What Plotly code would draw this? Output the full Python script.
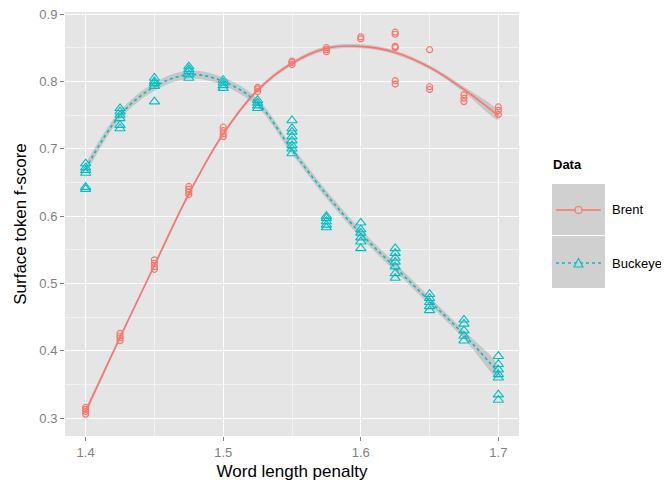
import plotly.graph_objects as go

# ---------------- data ----------------
penalties = [1.4, 1.425, 1.45, 1.475, 1.5, 1.525, 1.55, 1.575, 1.6, 1.625, 1.65, 1.675, 1.7]

brent_runs = [
    [0.306, 0.310, 0.313, 0.316],
    [0.415, 0.419, 0.422, 0.426],
    [0.521, 0.525, 0.530, 0.535],
    [0.632, 0.636, 0.640, 0.644],
    [0.718, 0.722, 0.727, 0.732],
    [0.785, 0.789, 0.791],
    [0.825, 0.828, 0.830],
    [0.844, 0.847, 0.850],
    [0.863, 0.866],
    [0.873, 0.870, 0.852, 0.850, 0.801, 0.796],
    [0.847, 0.792, 0.788],
    [0.780, 0.775, 0.770],
    [0.762, 0.757, 0.751],
]

buckeye_runs = [
    [0.640, 0.643, 0.664, 0.668, 0.672, 0.678],
    [0.730, 0.735, 0.745, 0.750, 0.755, 0.760],
    [0.770, 0.793, 0.797, 0.800, 0.805],
    [0.805, 0.810, 0.815, 0.818, 0.822],
    [0.790, 0.794, 0.798, 0.802],
    [0.760, 0.764, 0.768, 0.772],
    [0.693, 0.700, 0.705, 0.712, 0.718, 0.725, 0.730, 0.742],
    [0.583, 0.587, 0.592, 0.597, 0.600],
    [0.552, 0.562, 0.568, 0.575, 0.580, 0.590],
    [0.508, 0.515, 0.525, 0.532, 0.538, 0.545, 0.552],
    [0.460, 0.466, 0.472, 0.478, 0.484],
    [0.415, 0.422, 0.430, 0.440, 0.446],
    [0.327, 0.335, 0.360, 0.365, 0.372, 0.380, 0.392],
]

# smoothed fit and half-width of its confidence band
brent_fit = [0.310, 0.420, 0.527, 0.633, 0.722, 0.787, 0.827, 0.849, 0.852, 0.843, 0.821, 0.788, 0.749]
brent_se = [0.005, 0.003, 0.003, 0.003, 0.003, 0.003, 0.003, 0.003, 0.003, 0.003, 0.003, 0.004, 0.006]
buckeye_fit = [0.670, 0.750, 0.792, 0.810, 0.800, 0.768, 0.698, 0.632, 0.574, 0.524, 0.474, 0.424, 0.368]
buckeye_se = [0.008, 0.006, 0.006, 0.006, 0.006, 0.006, 0.006, 0.006, 0.006, 0.006, 0.006, 0.006, 0.009]

x_ticks = [1.4, 1.5, 1.6, 1.7]
y_ticks = [0.3, 0.4, 0.5, 0.6, 0.7, 0.8, 0.9]

RED = "#F8766D"
CYAN = "#00BFC4"
BAND = "rgba(153,153,153,0.4)"
KEYBG = "#D0D0D0"


def flatten(runs):
    xs, ys = [], []
    for p, vals in zip(penalties, runs):
        for v in vals:
            xs.append(p)
            ys.append(v)
    return xs, ys


fig = go.Figure()

for fit, se in [(brent_fit, brent_se), (buckeye_fit, buckeye_se)]:
    upper = [f + s for f, s in zip(fit, se)]
    lower = [f - s for f, s in zip(fit, se)]
    fig.add_trace(go.Scatter(x=penalties + penalties[::-1], y=upper + lower[::-1],
                             fill="toself", fillcolor=BAND, line=dict(width=0, shape="spline"),
                             mode="lines", hoverinfo="skip", showlegend=False))

bx, by = flatten(brent_runs)
kx, ky = flatten(buckeye_runs)

fig.add_trace(go.Scatter(x=bx, y=by, mode="markers", name="Brent", showlegend=False,
                         marker=dict(symbol="circle-open", size=6, color=RED, line=dict(width=1.2, color=RED))))
fig.add_trace(go.Scatter(x=kx, y=ky, mode="markers", name="Buckeye", showlegend=False,
                         marker=dict(symbol="triangle-up-open", size=9, color=CYAN, line=dict(width=1.1, color=CYAN))))

fig.add_trace(go.Scatter(x=penalties, y=brent_fit, mode="lines", showlegend=False,
                         line=dict(color=RED, width=1.6, shape="spline")))
fig.add_trace(go.Scatter(x=penalties, y=buckeye_fit, mode="lines", showlegend=False,
                         line=dict(color=CYAN, width=1.6, shape="spline", dash="3px,3px")))

# ---------------- layout ----------------
OFF = 8                     # browser default page margin
W, H = 669 - OFF, 487 - OFF
# plot area in page pixels
L_pg, R_pg, T_pg, B_pg = 65, 519, 12, 436
L, R, T, B = L_pg - OFF, R_pg - OFF, T_pg - OFF, B_pg - OFF


def px(x):
    return (x - L_pg) / (R_pg - L_pg)


def py(y):
    return (B_pg - y) / (B_pg - T_pg)


shapes = []
shapes.append(dict(type="rect", xref="paper", yref="paper", x0=px(552), x1=px(605), y0=py(184), y1=py(235),
                   fillcolor=KEYBG, line=dict(width=0), layer="above"))
shapes.append(dict(type="rect", xref="paper", yref="paper", x0=px(552), x1=px(605), y0=py(236), y1=py(288),
                   fillcolor=KEYBG, line=dict(width=0), layer="above"))
shapes.append(dict(type="line", xref="paper", yref="paper", x0=px(556), x1=px(601), y0=py(210), y1=py(210),
                   line=dict(color=RED, width=1.5), layer="above"))
shapes.append(dict(type="line", xref="paper", yref="paper", x0=px(556), x1=px(601), y0=py(263), y1=py(263),
                   line=dict(color=CYAN, width=1.5, dash="3px,3px"), layer="above"))
shapes.append(dict(type="circle", xref="paper", yref="paper", x0=px(575), x1=px(582), y0=py(206.5), y1=py(213.5),
                   fillcolor=KEYBG, line=dict(color=RED, width=1.1), layer="above"))
tx0, tx1, tx2 = px(574), px(578.5), px(583)
ty0, ty1 = py(267), py(258.5)
shapes.append(dict(type="path", xref="paper", yref="paper",
                   path=f"M {tx0},{ty0} L {tx2},{ty0} L {tx1},{ty1} Z",
                   fillcolor=KEYBG, line=dict(color=CYAN, width=1.1), layer="above"))

annotations = [
    dict(text="<b>Data</b>", xref="paper", yref="paper", x=px(551), y=py(165), xanchor="left", yanchor="middle",
         showarrow=False, font=dict(size=13, color="black")),
    dict(text="Brent", xref="paper", yref="paper", x=px(610), y=py(210), xanchor="left", yanchor="middle",
         showarrow=False, font=dict(size=13, color="black")),
    dict(text="Buckeye", xref="paper", yref="paper", x=px(610), y=py(263), xanchor="left", yanchor="middle",
         showarrow=False, font=dict(size=13, color="black")),
]

axis_common = dict(
    showgrid=True, gridcolor="white", gridwidth=1.4, zeroline=False, showline=False,
    ticks="outside", ticklen=4, tickwidth=1, tickcolor="#7F7F7F",
    tickfont=dict(size=13, color="#7F7F7F"), automargin=False, ticklabeloverflow="allow",
)

fig.update_layout(
    width=W, height=H,
    margin=dict(l=L, r=W - R, t=T, b=H - B, autoexpand=False),
    paper_bgcolor="white", plot_bgcolor="#E5E5E5",
    font=dict(family="Liberation Sans, Arial, Helvetica, sans-serif"),
    showlegend=False,
    shapes=shapes, annotations=annotations,
    xaxis=dict(range=[1.385, 1.715], tickvals=x_ticks, ticktext=[str(v) for v in x_ticks],
               title=dict(text="Word length penalty", font=dict(size=17, color="black"), standoff=6),
               minor=dict(dtick=0.05, tick0=1.35, showgrid=True, gridcolor="#F2F2F2", gridwidth=0.8, ticks=""),
               **axis_common),
    yaxis=dict(range=[0.2735, 0.903], tickvals=y_ticks, ticktext=[str(v) for v in y_ticks],
               title=dict(text="Surface token f-score", font=dict(size=17, color="black"), standoff=8),
               minor=dict(dtick=0.05, tick0=0.25, showgrid=True, gridcolor="#F2F2F2", gridwidth=0.8, ticks=""),
               **axis_common),
)

fig.write_html("out.html")
